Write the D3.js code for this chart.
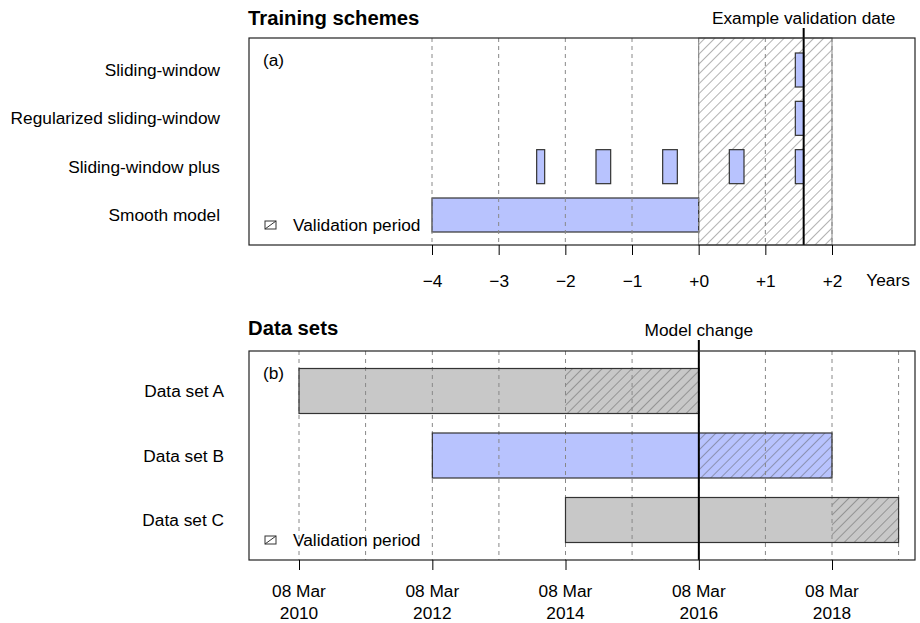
<!DOCTYPE html>
<html><head><meta charset="utf-8">
<script src="https://cdn.jsdelivr.net/npm/d3@7"></script>
<style>
body{margin:0;background:#fff;}
svg text{font-family:"Liberation Sans",Arial,sans-serif;fill:#000;}
</style></head>
<body><svg id="c" width="920" height="623"></svg>
<script>
// ---------- data ----------
const schemes = ["Sliding-window","Regularized sliding-window","Sliding-window plus","Smooth model"];
const trainStart = [1.45, 1.45, -2.43, -1.54, -0.54, 0.46, 1.45, -4];
const trainEnd   = [1.575, 1.575, -2.31, -1.32, -0.32, 0.68, 1.575, 0];
const trainScheme= ["Sliding-window","Regularized sliding-window","Sliding-window plus","Sliding-window plus","Sliding-window plus","Sliding-window plus","Sliding-window plus","Smooth model"];
const yearTicks = [-4,-3,-2,-1,0,1,2];
const yearTickLabels = ["\u22124","\u22123","\u22122","\u22121","+0","+1","+2"];
const validationPeriod = [0, 2];
const exampleValidationDate = 1.575;

const dataSets = ["Data set A","Data set B","Data set C"];
const dsStart = ["2010-03-08","2012-03-08","2014-03-08"];
const dsValid = ["2014-03-08","2016-03-08","2018-03-08"];
const dsEnd   = ["2016-03-08","2018-03-08","2019-03-08"];
const dsFill  = ["gray","blue","gray"];
const gridYears = [2010,2011,2012,2013,2014,2015,2016,2017,2018,2019];
const dateTicks = ["2010-03-08","2012-03-08","2014-03-08","2016-03-08","2018-03-08"];
const modelChange = "2016-03-08";

// ---------- setup ----------
const svg = d3.select("#c");
const BLUE = "#b8c3fe", GRAY = "#c8c8c8", STROKE = "#333";
const FS = 17.3;
const boxL = 249, boxR = 915;
const parse = d3.utcParse("%Y-%m-%d");

const defs = svg.append("defs");
function hatch(id){
  const p = defs.append("pattern").attr("id",id).attr("patternUnits","userSpaceOnUse")
    .attr("width",7).attr("height",7).attr("patternTransform","rotate(45)");
  p.append("line").attr("x1",0).attr("y1",0).attr("x2",0).attr("y2",7)
    .attr("stroke","#555").attr("stroke-width",0.9);
}
hatch("h1");

// ---------- top panel ----------
const x1 = d3.scaleLinear().domain([-4,2]).range([432,832]);
const top1 = 38, bot1 = 245;
const y1 = d3.scalePoint().domain(schemes).range([70,215]);
const bh1 = 34;
const g1 = svg.append("g");

// validation region
g1.append("rect").attr("x",x1(validationPeriod[0])).attr("y",top1)
  .attr("width",x1(validationPeriod[1])-x1(validationPeriod[0])).attr("height",bot1-top1)
  .attr("fill","url(#h1)").attr("stroke","#888").attr("stroke-width",1);

// bars
const tb = trainStart.map((s,i)=>({s, e:trainEnd[i], k:trainScheme[i]}));
g1.selectAll("rect.bar").data(tb).join("rect").attr("class","bar")
  .attr("x",d=>x1(d.s)).attr("width",d=>x1(d.e)-x1(d.s))
  .attr("y",d=>y1(d.k)-bh1/2).attr("height",bh1)
  .attr("fill",BLUE).attr("stroke",STROKE).attr("stroke-width",1.2);

// gridlines
g1.selectAll("line.grid").data(yearTicks).join("line")
  .attr("x1",d=>x1(d)).attr("x2",d=>x1(d)).attr("y1",top1).attr("y2",bot1)
  .attr("stroke","#888").attr("stroke-width",1).attr("stroke-dasharray","4,4");

// example validation line
g1.append("line").attr("x1",x1(exampleValidationDate)).attr("x2",x1(exampleValidationDate))
  .attr("y1",28).attr("y2",bot1).attr("stroke","#000").attr("stroke-width",2);
g1.append("text").attr("x",x1(exampleValidationDate)).attr("y",24).attr("text-anchor","middle")
  .attr("font-size",FS).text("Example validation date");

// box
g1.append("rect").attr("x",boxL).attr("y",top1).attr("width",boxR-boxL).attr("height",bot1-top1)
  .attr("fill","none").attr("stroke","#222").attr("stroke-width",1.2);

// axis
const ax1 = d3.axisBottom(x1).tickValues(yearTicks).tickSize(10).tickPadding(20)
  .tickFormat((d,i)=>yearTickLabels[i]);
const axg1 = g1.append("g").attr("transform",`translate(0,${bot1})`).call(ax1);
axg1.select(".domain").remove();
axg1.selectAll("line").attr("stroke","#000");
axg1.selectAll("text").attr("font-size",FS).attr("font-family","Liberation Sans, Arial, sans-serif");
g1.append("text").attr("x",888).attr("y",286).attr("text-anchor","middle").attr("font-size",FS).text("Years");

// labels
g1.selectAll("text.lab").data(schemes).join("text").attr("class","lab")
  .attr("x",220).attr("y",d=>y1(d)+6).attr("text-anchor","end").attr("font-size",FS).text(d=>d);
g1.append("text").attr("x",248).attr("y",25).attr("font-size",20.3).attr("font-weight","bold").text("Training schemes");
g1.append("text").attr("x",263).attr("y",66).attr("font-size",FS).text("(a)");

function legend(g, cy){
  g.append("rect").attr("x",265).attr("y",cy-4).attr("width",11).attr("height",8)
    .attr("fill","none").attr("stroke","#333").attr("stroke-width",1);
  g.append("line").attr("x1",265).attr("y1",cy+4).attr("x2",276).attr("y2",cy-4)
    .attr("stroke","#333").attr("stroke-width",1);
  g.append("text").attr("x",293).attr("y",cy+6).attr("font-size",FS).text("Validation period");
}
legend(g1, 225);

// ---------- bottom panel ----------
const x2 = d3.scaleUtc().domain([parse("2010-03-08"),parse("2018-03-08")]).range([299,832]);
const top2 = 351, bot2 = 560;
const y2 = d3.scalePoint().domain(dataSets).range([391,520]);
const bh2 = 45;
const g2 = svg.append("g");

const ds = dataSets.map((k,i)=>({k, s:parse(dsStart[i]), v:parse(dsValid[i]), e:parse(dsEnd[i]), f: dsFill[i]==="blue"?BLUE:GRAY}));
g2.selectAll("rect.fill").data(ds).join("rect").attr("class","fill")
  .attr("x",d=>x2(d.s)).attr("width",d=>x2(d.e)-x2(d.s))
  .attr("y",d=>y2(d.k)-bh2/2).attr("height",bh2).attr("fill",d=>d.f);
g2.selectAll("rect.hat").data(ds).join("rect").attr("class","hat")
  .attr("x",d=>x2(d.v)).attr("width",d=>x2(d.e)-x2(d.v))
  .attr("y",d=>y2(d.k)-bh2/2).attr("height",bh2).attr("fill","url(#h1)");

// gridlines
g2.selectAll("line.grid").data(gridYears).join("line")
  .attr("x1",d=>x2(parse(d+"-03-08"))).attr("x2",d=>x2(parse(d+"-03-08")))
  .attr("y1",top2).attr("y2",bot2)
  .attr("stroke","#888").attr("stroke-width",1).attr("stroke-dasharray","4,4");

g2.selectAll("rect.out").data(ds).join("rect").attr("class","out")
  .attr("x",d=>x2(d.s)).attr("width",d=>x2(d.e)-x2(d.s))
  .attr("y",d=>y2(d.k)-bh2/2).attr("height",bh2).attr("fill","none")
  .attr("stroke",STROKE).attr("stroke-width",1.2);

// model change
const mc = x2(parse(modelChange));
g2.append("line").attr("x1",mc).attr("x2",mc).attr("y1",340).attr("y2",bot2)
  .attr("stroke","#000").attr("stroke-width",2);
g2.append("text").attr("x",mc).attr("y",336).attr("text-anchor","middle").attr("font-size",FS).text("Model change");

g2.append("rect").attr("x",boxL).attr("y",top2).attr("width",boxR-boxL).attr("height",bot2-top2)
  .attr("fill","none").attr("stroke","#222").attr("stroke-width",1.2);

const fmtDM = d3.utcFormat("%d %b"), fmtY = d3.utcFormat("%Y");
const ax2 = d3.axisBottom(x2).tickValues(dateTicks.map(parse)).tickSize(10).tickFormat("");
const axg2 = g2.append("g").attr("transform",`translate(0,${bot2})`).call(ax2);
axg2.select(".domain").remove();
axg2.selectAll("line").attr("stroke","#000");
const tl = g2.selectAll("text.tick2").data(dateTicks.map(parse)).join("text").attr("class","tick2")
  .attr("text-anchor","middle").attr("font-size",FS);
tl.append("tspan").attr("x",d=>x2(d)).attr("y",597).text(d=>fmtDM(d));
tl.append("tspan").attr("x",d=>x2(d)).attr("y",619).text(d=>fmtY(d));

g2.selectAll("text.lab").data(dataSets).join("text").attr("class","lab")
  .attr("x",224).attr("y",d=>y2(d)+6).attr("text-anchor","end").attr("font-size",FS).text(d=>d);
g2.append("text").attr("x",248).attr("y",335).attr("font-size",20.3).attr("font-weight","bold").text("Data sets");
g2.append("text").attr("x",263).attr("y",379).attr("font-size",FS).text("(b)");
legend(g2, 540);
</script></body></html>
